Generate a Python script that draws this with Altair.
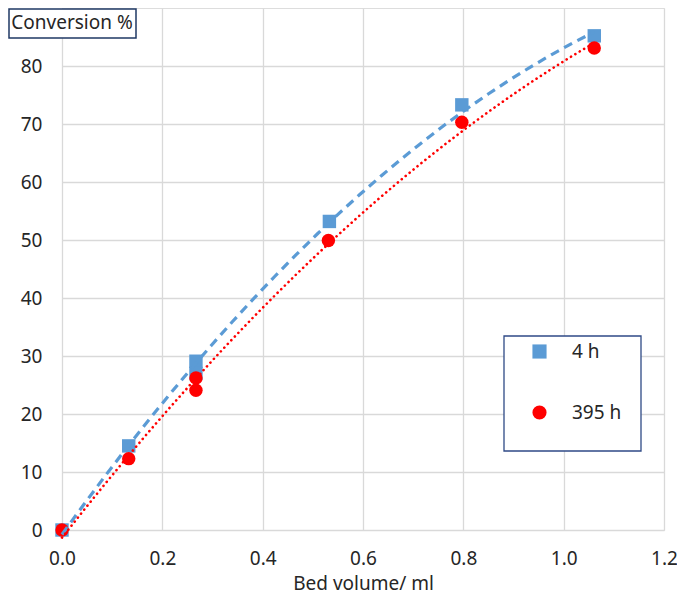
import altair as alt
import pandas as pd

# Data
bed_volume_4h = [0.0, 0.133, 0.267, 0.267, 0.533, 0.797, 1.061]
conversion_4h = [0.0, 14.5, 29.1, 27.0, 53.2, 73.3, 85.2]
bed_volume_395h = [0.0, 0.133, 0.267, 0.267, 0.531, 0.797, 1.061]
conversion_395h = [0.0, 12.3, 26.2, 24.1, 49.9, 70.3, 83.1]
series_names = ["4 h", "395 h"]
series_colors = ["#5B9BD5", "#FF0000"]
series_shapes = ["square", "circle"]
x_ticks = [0.0, 0.2, 0.4, 0.6, 0.8, 1.0, 1.2]
y_ticks = [0, 10, 20, 30, 40, 50, 60, 70, 80]

df = pd.concat([
    pd.DataFrame({"x": bed_volume_4h, "y": conversion_4h, "series": series_names[0]}),
    pd.DataFrame({"x": bed_volume_395h, "y": conversion_395h, "series": series_names[1]}),
], ignore_index=True)

FONT = "Noto Sans"
TXT = "#262626"
x_scale = alt.Scale(domain=[0, 1.2], nice=False, zero=False)
y_scale = alt.Scale(domain=[0, 90], nice=False)

base = alt.Chart(df)

x_enc = alt.X("x:Q", scale=x_scale, axis=alt.Axis(
    values=x_ticks, format=".1f", title="Bed volume/ ml", grid=True, labelFlush=False,
    ticks=False, tickSize=0, domain=False, labelPadding=19, titlePadding=6,
    labelFontSize=19, titleFontSize=19, labelFont=FONT, titleFont=FONT,
    labelColor=TXT, titleColor=TXT, titleFontWeight="normal",
    gridColor="#D9D9D9", gridWidth=1.3))
y_enc = alt.Y("y:Q", scale=y_scale, axis=alt.Axis(
    values=y_ticks, title=None, grid=True, ticks=False, tickSize=0, domain=False,
    labelFlush=False, labelPadding=20, labelFontSize=19, labelFont=FONT, labelColor=TXT,
    gridColor="#D9D9D9", gridWidth=1.3))

legend_cfg = dict(title=None, orient="none", legendX=468, legendY=334,
                  padding=0, rowPadding=40, labelOffset=23,
                  symbolSize=200, labelFontSize=19, labelFont=FONT,
                  labelColor=TXT, symbolOpacity=1)

points = base.mark_point(filled=True, size=180, opacity=1).encode(
    x=x_enc,
    y=y_enc,
    color=alt.Color("series:N", scale=alt.Scale(domain=series_names, range=series_colors),
                    legend=alt.Legend(**legend_cfg)),
    shape=alt.Shape("series:N", scale=alt.Scale(domain=series_names, range=series_shapes),
                    legend=alt.Legend(**legend_cfg)),
)

trend_4h = base.transform_filter(alt.datum.series == series_names[0]).transform_regression(
    "x", "y", method="poly", order=2
).mark_line(color=series_colors[0], strokeWidth=3.2, strokeDash=[9, 6]).encode(
    x=alt.X("x:Q", scale=x_scale), y=alt.Y("y:Q", scale=y_scale))

trend_395h = base.transform_filter(alt.datum.series == series_names[1]).transform_regression(
    "x", "y", method="poly", order=2
).mark_line(color=series_colors[1], strokeWidth=2.6, strokeDash=[0.1, 5], strokeCap="round").encode(
    x=alt.X("x:Q", scale=x_scale), y=alt.Y("y:Q", scale=y_scale))

one = alt.Data(values=[{"k": 1}])

legend_box = alt.Chart(one).mark_rect(fill="white", stroke="#2F4A86", strokeWidth=1.3).encode(
    x=alt.value(442), x2=alt.value(579), y=alt.value(328), y2=alt.value(443))

title_box = alt.Chart(one).mark_rect(fill="white", stroke="#1F3864", strokeWidth=1.5).encode(
    x=alt.value(-53), x2=alt.value(74), y=alt.value(1), y2=alt.value(30))
title_text = alt.Chart(one).mark_text(
    text="Conversion %", font=FONT, fontSize=19, color=TXT, align="center", baseline="middle"
).encode(x=alt.value(10), y=alt.value(15))

chart = alt.layer(legend_box, points, trend_4h, trend_395h, title_box, title_text).properties(
    width=602, height=522,
    padding={"left": 54, "top": 0, "right": 13, "bottom": 67},
    autosize=alt.AutoSizeParams(type="none"),
).configure_view(stroke="#D9D9D9", strokeWidth=1.3).configure(background="white")

chart.save("out.html", embed_options={"renderer": "svg", "actions": False})
